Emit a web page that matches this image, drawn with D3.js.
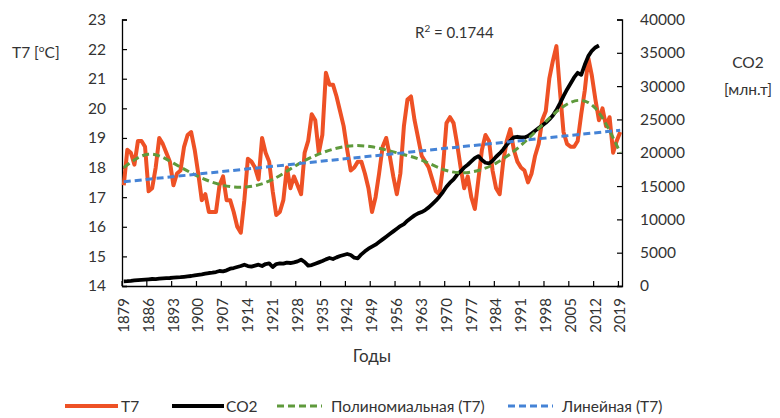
<!DOCTYPE html>
<html>
<head>
<meta charset="utf-8">
<script src="https://cdn.jsdelivr.net/npm/d3@7"></script>
<style>
  body { margin: 0; background: #fff; }
  svg { display: block; font-family: "Lato", "Open Sans", sans-serif; }
  text { fill: #333; }
</style>
</head>
<body>
<svg id="chart" width="780" height="418"></svg>
<script>
// Annual air temperature (T7) and global CO2 emissions, 1879–2019
const firstYear = 1879;
const lastYear = 2019;
const years = d3.range(firstYear, lastYear + 1);

const t7 = [
  17.4, 18.6, 18.5, 18.1, 18.9, 18.9, 18.7, 17.2, 17.3, 18.0,
  19.0, 18.8, 18.5, 18.2, 17.4, 17.8, 17.9, 18.7, 19.1, 19.2,
  18.6, 17.8, 16.9, 17.1, 16.5, 16.5, 16.5, 17.4, 17.7, 16.9,
  16.9, 16.5, 16.0, 15.8, 16.9, 18.3, 18.2, 18.0, 17.6, 19.0,
  18.5, 18.2, 17.2, 16.4, 16.5, 16.9, 18.0, 17.3, 17.7, 17.4,
  17.1, 18.5, 18.9, 19.8, 19.6, 18.5, 19.1, 21.2, 20.8, 20.8,
  20.4, 19.9, 19.4, 18.6, 17.9, 18.0, 18.2, 18.2, 17.8, 17.3,
  16.5, 17.0, 17.8, 18.7, 19.0, 18.4, 17.7, 17.1, 17.8, 19.4,
  20.3, 20.4, 19.6, 19.0, 18.4, 18.2, 18.0, 17.6, 17.2, 17.1,
  18.0, 19.5, 19.7, 19.5, 18.8, 18.0, 17.3, 17.7, 17.0, 16.6,
  17.6, 18.6, 19.1, 18.9, 17.9, 17.3, 17.1, 18.2, 18.9, 19.3,
  18.6, 18.2, 18.0, 17.9, 17.5, 17.8, 18.4, 18.8, 19.6, 19.9,
  21.0, 21.6, 22.1, 20.6, 19.2, 18.8, 18.7, 18.7, 18.9, 19.8,
  20.6, 21.7, 21.1, 20.3, 19.6, 20.0, 19.4, 19.7, 18.5, 18.9,
  19.2
];

// CO2, million tonnes, 1879–2013
const co2 = [
  700, 730, 780, 850, 880, 920, 960, 1000, 1050, 1030,
  1100, 1150, 1180, 1200, 1250, 1300, 1320, 1380, 1450, 1500,
  1600, 1680, 1750, 1850, 1950, 2000, 2100, 2250, 2200, 2350,
  2600, 2700, 2850, 3000, 3200, 3000, 2900, 3050, 3200, 3000,
  3300, 3400, 2850, 3300, 3400, 3350, 3500, 3450, 3550, 3700,
  3950, 3600, 3050, 3150, 3350, 3550, 3750, 4000, 4200, 4050,
  4300, 4500, 4650, 4800, 4650, 4250, 4150, 4750, 5200, 5600,
  5900, 6200, 6600, 7000, 7400, 7800, 8200, 8600, 9000, 9300,
  9800, 10200, 10600, 10900, 11100, 11400, 11800, 12300, 12800, 13400,
  14100, 14900, 15500, 16000, 16700, 17200, 17800, 18200, 18700, 19200,
  19500, 18900, 18500, 18400, 18800, 19400, 19900, 20500, 21200, 21800,
  22300, 22400, 22300, 22300, 22500, 22900, 23300, 23700, 24100, 24500,
  25000, 25600, 26400, 27400, 28500, 29500, 30400, 31300, 32000, 31700,
  33200, 34500, 35300, 35800, 36100
];

// Polynomial trend of T7, read at every labelled year
const polyYears = [1879, 1886, 1893, 1900, 1907, 1914, 1921, 1928, 1935, 1942, 1949,
                   1956, 1963, 1970, 1977, 1984, 1991, 1998, 2005, 2012, 2019];
const polyT7 = [18.0, 18.45, 18.15, 17.7, 17.4, 17.35, 17.6, 18.1, 18.5, 18.72, 18.7,
                18.5, 18.25, 17.9, 17.85, 18.15, 18.75, 19.55, 20.2, 20.0, 18.5];

// Linear trend of T7 (end points)
const linYears = [1879, 2019];
const linT7 = [17.52, 19.26];

const tempTicks = d3.range(14, 24);
const co2Ticks = d3.range(0, 40001, 5000);
const yearTickStep = 7;
const r2Label = "0.1744";

const FONT = "Lato, 'Open Sans', sans-serif";
const svg = d3.select("#chart");
const plot = { left: 122, right: 622, top: 19.5, bottom: 286 };

const x = d3.scaleBand().domain(years).range([plot.left, plot.right]);
const xc = yr => x(yr) + x.bandwidth() / 2;
const yT = d3.scaleLinear().domain([14, 23]).range([plot.bottom, plot.top]);
const yC = d3.scaleLinear().domain([0, 40000]).range([plot.bottom, plot.top]);

// Axes
const labelYears = years.filter((d, i) => i % yearTickStep === 0);

const gx = svg.append("g").attr("transform", `translate(0,${plot.bottom})`)
  .call(d3.axisBottom(x).tickValues(labelYears).tickSize(0).tickPadding(0));
gx.select(".domain").attr("stroke", "#000").attr("stroke-width", 1.3);
gx.selectAll(".tick text")
  .attr("transform", "rotate(-90)")
  .attr("text-anchor", "end")
  .attr("x", -12)
  .attr("y", 0)
  .attr("dy", "0.35em")
  .style("font-size", "15px")
  .style("font-family", FONT)
  .style("fill", "#333");
// tick marks on category boundaries, pointing up into the plot
const boundaries = d3.range(0, years.length + 1, yearTickStep).map(i => plot.left + i * x.step());
svg.append("g").selectAll("line").data(boundaries).join("line")
  .attr("x1", d => d).attr("x2", d => d)
  .attr("y1", plot.bottom).attr("y2", plot.bottom - 5)
  .attr("stroke", "#000").attr("stroke-width", 1.2);

const gyL = svg.append("g").attr("transform", `translate(${plot.left},0)`)
  .call(d3.axisRight(yT).tickValues(tempTicks).tickSize(5).tickFormat(d3.format("d")));
gyL.select(".domain").attr("stroke", "#000").attr("stroke-width", 1.3);
gyL.selectAll(".tick line").attr("stroke", "#000").attr("stroke-width", 1.2);
gyL.selectAll(".tick text")
  .attr("x", -16).attr("text-anchor", "end")
  .style("font-size", "15.5px").style("font-family", FONT).style("fill", "#333");

const gyR = svg.append("g").attr("transform", `translate(${plot.right},0)`)
  .call(d3.axisLeft(yC).tickValues(co2Ticks).tickSize(5).tickFormat(d3.format("d")));
gyR.select(".domain").attr("stroke", "#000").attr("stroke-width", 1.3);
gyR.selectAll(".tick line").attr("stroke", "#000").attr("stroke-width", 1.2);
gyR.selectAll(".tick text")
  .attr("x", 18).attr("text-anchor", "start")
  .style("font-size", "15.5px").style("font-family", FONT).style("fill", "#333");

// Series
const t7Line = d3.line().x((d, i) => xc(years[i])).y(d => yT(d)).curve(d3.curveLinear);
const co2Line = d3.line().x((d, i) => xc(years[i])).y(d => yC(d)).curve(d3.curveLinear);

svg.append("path").datum(t7).attr("d", t7Line)
  .attr("fill", "none").attr("stroke", "#ee5125").attr("stroke-width", 4)
  .attr("stroke-linejoin", "round");

svg.append("path").datum(co2).attr("d", co2Line)
  .attr("fill", "none").attr("stroke", "#000").attr("stroke-width", 3.8)
  .attr("stroke-linejoin", "round");

const polyLine = d3.line().x((d, i) => xc(polyYears[i])).y(d => yT(d)).curve(d3.curveNatural);
svg.append("path").datum(polyT7).attr("d", polyLine)
  .attr("fill", "none").attr("stroke", "#5f9a3c").attr("stroke-width", 3)
  .attr("stroke-dasharray", "7,4");

const linLine = d3.line().x((d, i) => xc(linYears[i])).y(d => yT(d));
svg.append("path").datum(linT7).attr("d", linLine)
  .attr("fill", "none").attr("stroke", "#4583d6").attr("stroke-width", 3)
  .attr("stroke-dasharray", "7,4");

// R² annotation
const r2 = svg.append("text").attr("x", 415).attr("y", 38).style("font-size", "15px");
r2.append("tspan").text("R");
r2.append("tspan").attr("dy", -6).style("font-size", "10px").text("2");
r2.append("tspan").attr("dy", 6).text(" = " + r2Label);

// Axis titles
const tl = svg.append("text").attr("x", 12).attr("y", 58).style("font-size", "15.5px");
tl.append("tspan").text("T7 [");
tl.append("tspan").attr("dy", -6).style("font-size", "10px").text("o");
tl.append("tspan").attr("dy", 6).text("C]");

svg.append("text").attr("x", 748).attr("y", 68).attr("text-anchor", "middle")
  .style("font-size", "15.5px").text("CO2");
svg.append("text").attr("x", 748).attr("y", 95).attr("text-anchor", "middle")
  .style("font-size", "15.5px").text("[млн.т]");

svg.append("text").attr("x", 372).attr("y", 362).attr("text-anchor", "middle")
  .style("font-size", "17px").text("Годы");

// Legend
const legendItems = [
  { label: "T7", color: "#ee5125", dash: null, width: 4, x0: 65, x1: 118, tx: 121 },
  { label: "CO2", color: "#000", dash: null, width: 4, x0: 172, x1: 224, tx: 226 },
  { label: "Полиномиальная (T7)", color: "#5f9a3c", dash: "7,4", width: 3, x0: 277, x1: 322, tx: 331 },
  { label: "Линейная (T7)", color: "#4583d6", dash: "7,4", width: 3, x0: 508, x1: 553, tx: 562 }
];
const lg = svg.append("g");
legendItems.forEach(it => {
  lg.append("line").attr("x1", it.x0).attr("x2", it.x1).attr("y1", 406).attr("y2", 406)
    .attr("stroke", it.color).attr("stroke-width", it.width)
    .attr("stroke-dasharray", it.dash);
  lg.append("text").attr("x", it.tx).attr("y", 411.5).style("font-size", "15.5px").text(it.label);
});
</script>
</body>
</html>
